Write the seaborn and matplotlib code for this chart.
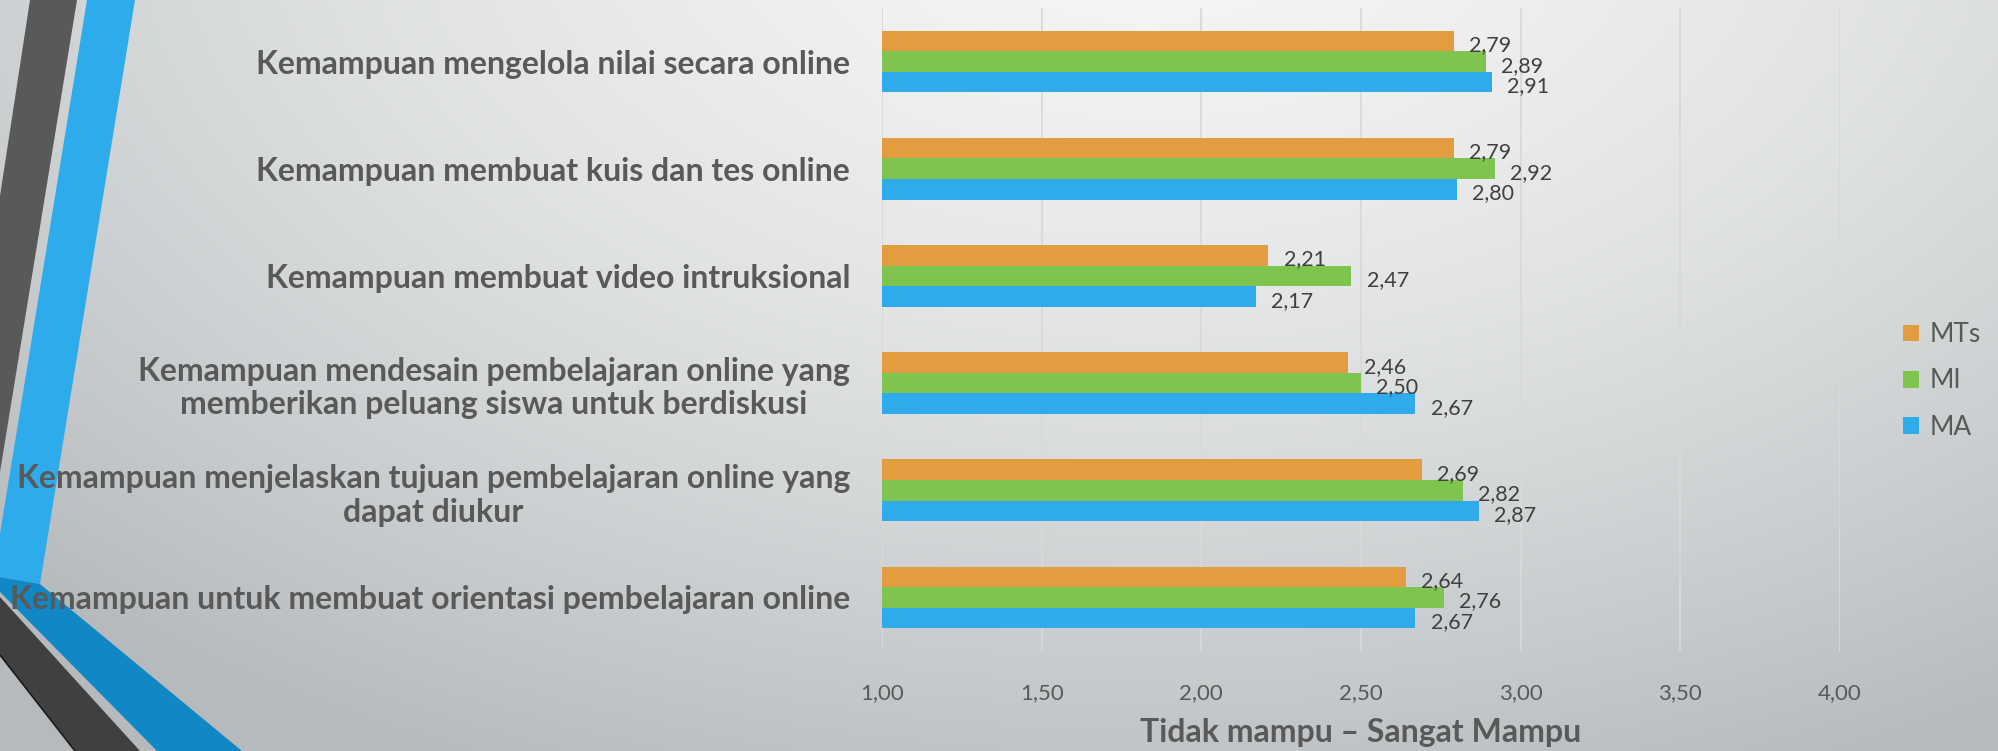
import numpy as np
import pandas as pd
import matplotlib
matplotlib.use("Agg")
import matplotlib.pyplot as plt
from matplotlib.patches import Polygon
from matplotlib.ticker import FuncFormatter, MultipleLocator
import seaborn as sns

# ---------------- data ----------------
categories = [
    "Kemampuan mengelola nilai secara online",
    "Kemampuan membuat kuis dan tes online",
    "Kemampuan membuat video intruksional",
    "Kemampuan mendesain pembelajaran online yang\nmemberikan peluang siswa untuk berdiskusi",
    "Kemampuan menjelaskan tujuan pembelajaran online yang\ndapat diukur",
    "Kemampuan untuk membuat orientasi pembelajaran online",
]
series = ["MTs", "MI", "MA"]
mts_values = [2.79, 2.79, 2.21, 2.46, 2.69, 2.64]
mi_values = [2.89, 2.92, 2.47, 2.50, 2.82, 2.76]
ma_values = [2.91, 2.80, 2.17, 2.67, 2.87, 2.67]
x_label = "Tidak mampu – Sangat Mampu"

colors = {"MTs": "#E39C3F", "MI": "#80C450", "MA": "#2FABEB"}

df = pd.DataFrame({
    "Kategori": categories * 3,
    "Kelompok": ["MTs"] * 6 + ["MI"] * 6 + ["MA"] * 6,
    "Nilai": mts_values + mi_values + ma_values,
})

# ---------------- style ----------------
sns.set_theme(style="white")
plt.rcParams["font.family"] = ["Lato", "DejaVu Sans"]
TXT = "#595959"

W, H = 1998, 751
fig = plt.figure(figsize=(W / 100, H / 100), dpi=100)

# background gradient
bg = fig.add_axes([0, 0, 1, 1], zorder=-10)
yy, xx = np.mgrid[0:H, 0:W]
d = np.sqrt(((xx - 1150) / 1500.0) ** 2 + ((yy + 100) / 900.0) ** 2)
t = np.clip(d, 0, 1.15) ** 1.5
c0 = np.array([245, 246, 246]) / 255.0
c1 = np.array([188, 192, 194]) / 255.0
img = c0[None, None, :] + (c1 - c0)[None, None, :] * np.clip(t, 0, 1.1)[..., None]
bg.imshow(np.clip(img, 0, 1), extent=[0, W, H, 0], aspect="auto")
bg.set_xlim(0, W)
bg.set_ylim(H, 0)
bg.axis("off")

# decorative shapes (pixel coords, y downward)
shapes = [
    ([(30, 0), (77, 0), (0, 472), (0, 196)], "#595959"),
    ([(87, 0), (135, 0), (40, 584), (0, 577), (0, 534)], "#2EABEA"),
    ([(0, 577), (40, 584), (242, 751), (157, 751), (0, 592)], "#1287C6"),
    ([(0, 597), (140, 751), (75, 751), (0, 655)], "#404040"),
]
for pts, col in shapes:
    bg.add_patch(Polygon(pts, closed=True, facecolor=col, edgecolor="none"))
bg.plot([0, 75], [655, 751], color="#1a1a1a", lw=1.2)

# ---------------- chart ----------------
ax = fig.add_axes([882 / W, 1 - 651 / H, (1840 - 882) / W, (651 - 8) / H])
ax.patch.set_alpha(0)

sns.barplot(
    data=df, y="Kategori", x="Nilai", hue="Kelompok",
    hue_order=series, order=categories, palette=colors,
    orient="h", width=0.575, gap=0, ax=ax, saturation=1,
    edgecolor="none", linewidth=0, legend=True,
)

ax.set_xlim(1.0, 4.0)
ax.xaxis.set_major_locator(MultipleLocator(0.5))
ax.xaxis.set_major_formatter(FuncFormatter(lambda v, p: f"{v:.2f}".replace(".", ",")))
ax.grid(axis="x", color="#D9D9D9", lw=1.3)
ax.grid(axis="y", visible=False)
ax.set_axisbelow(True)
for s in ax.spines.values():
    s.set_visible(False)
ax.tick_params(axis="both", length=0)
ax.tick_params(axis="x", pad=23, labelsize=16, labelcolor=TXT)
ax.tick_params(axis="y", pad=23, labelsize=23, labelcolor=TXT)
for lab in ax.get_yticklabels():
    lab.set_fontweight("bold")
    lab.set_multialignment("center")

ax.set_ylabel("")
ax.set_xlabel(x_label, fontsize=23, fontweight="bold", color=TXT, labelpad=11)

# data labels
for cont in ax.containers:
    for bar in cont:
        v = bar.get_width()
        ax.annotate(
            f"{v:.2f}".replace(".", ","),
            xy=(v, bar.get_y() + bar.get_height() / 2),
            xytext=(11, -3), textcoords="offset points",
            ha="left", va="center", fontsize=15.5, color="#404040",
        )

# legend
leg = ax.legend(
    loc="center left", bbox_to_anchor=(1.055, 0.42), frameon=False,
    fontsize=19, labelcolor=TXT, handlelength=0.6, handleheight=0.6,
    handletextpad=0.4, labelspacing=0.8, borderaxespad=0,
)

fig.savefig("out.png", dpi=100)
